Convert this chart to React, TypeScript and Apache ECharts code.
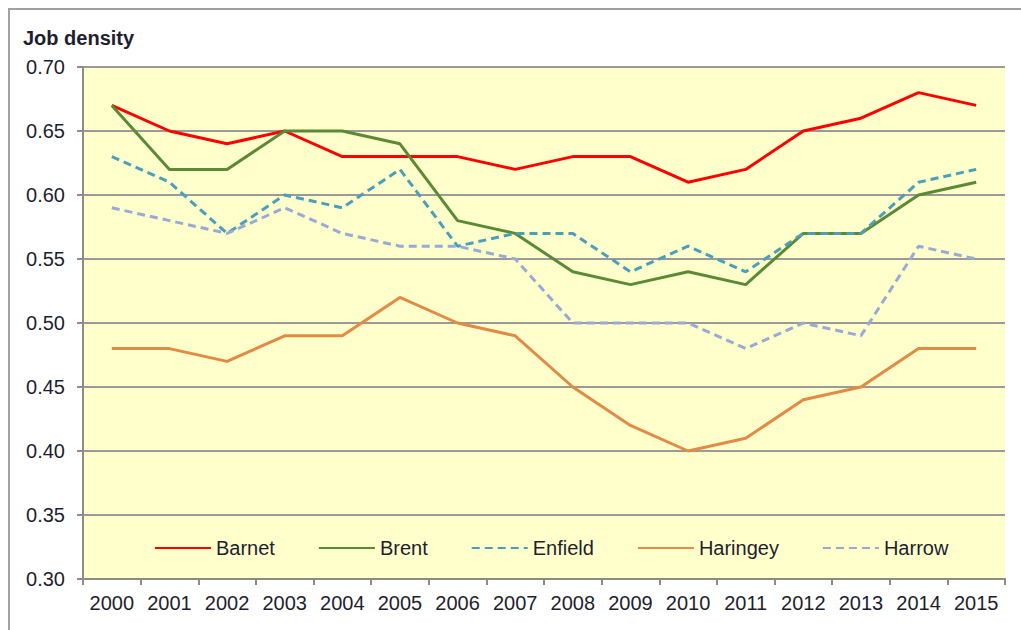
import React, { useEffect, useRef } from "react";
import * as echarts from "echarts";

const years = ["2000","2001","2002","2003","2004","2005","2006","2007","2008","2009","2010","2011","2012","2013","2014","2015"];
const barnet = [0.67,0.65,0.64,0.65,0.63,0.63,0.63,0.62,0.63,0.63,0.61,0.62,0.65,0.66,0.68,0.67];
const brent = [0.67,0.62,0.62,0.65,0.65,0.64,0.58,0.57,0.54,0.53,0.54,0.53,0.57,0.57,0.60,0.61];
const enfield = [0.63,0.61,0.57,0.60,0.59,0.62,0.56,0.57,0.57,0.54,0.56,0.54,0.57,0.57,0.61,0.62];
const haringey = [0.48,0.48,0.47,0.49,0.49,0.52,0.50,0.49,0.45,0.42,0.40,0.41,0.44,0.45,0.48,0.48];
const harrow = [0.59,0.58,0.57,0.59,0.57,0.56,0.56,0.55,0.50,0.50,0.50,0.48,0.50,0.49,0.56,0.55];

const FONT = "'Liberation Sans', Arial, sans-serif";
const TXT = "#1e1e2e";

export default function App() {
  const ref = useRef<HTMLDivElement>(null);
  useEffect(() => {
    if (!ref.current) return;
    const chart = echarts.init(ref.current, null, { renderer: "svg" });
    const mk = (name: string, data: number[], color: string, dashed: boolean) => ({
      name,
      type: "line",
      data,
      symbol: "none",
      lineStyle: { color, width: 3, type: dashed ? [8, 5] : "solid" },
      itemStyle: { color },
    });
    chart.setOption({
      animation: false,
      textStyle: { fontFamily: FONT },
      graphic: [
        {
          type: "rect",
          shape: { x: 9, y: 9, width: 1100, height: 700 },
          style: { fill: "none", stroke: "#a0a0a0", lineWidth: 2 },
        },
        {
          type: "rect",
          z: -1,
          shape: { x: 83, y: 67, width: 922, height: 512 },
          style: { fill: "#FFFFCC" },
        },
        {
          type: "text",
          left: 23,
          top: 28,
          style: { text: "Job density", fontFamily: FONT, fontSize: 20, fontWeight: "bold", fill: TXT },
        },
      ],
      legend: {
        left: 149,
        top: 533,
        itemWidth: 56,
        itemHeight: 14,
        itemGap: 43,
        itemStyle: { opacity: 0 },
        textStyle: { fontFamily: FONT, fontSize: 20, color: TXT },
        data: ["Barnet", "Brent", "Enfield", "Haringey", "Harrow"],
      },
      grid: { left: 83, right: 16, top: 67, bottom: 51, containLabel: false },
      xAxis: {
        type: "category",
        data: years,
        boundaryGap: true,
        axisLine: { lineStyle: { color: "#8c8c8c", width: 2 } },
        axisTick: { show: true, length: 6, lineStyle: { color: "#8c8c8c", width: 2 } },
        axisLabel: { fontFamily: FONT, fontSize: 20, color: TXT, margin: 14, interval: 0 },
        splitLine: { show: false },
      },
      yAxis: {
        type: "value",
        min: 0.3,
        max: 0.7,
        interval: 0.05,
        axisLine: { show: true, lineStyle: { color: "#8c8c8c", width: 2 } },
        axisTick: { show: true, length: 6, lineStyle: { color: "#8c8c8c", width: 2 } },
        axisLabel: {
          fontFamily: FONT,
          fontSize: 20,
          color: TXT,
          margin: 18,
          formatter: (v: number) => v.toFixed(2),
        },
        splitLine: { show: true, lineStyle: { color: "#9a9a9a", width: 2 } },
      },
      series: [
        mk("Barnet", barnet, "#FF0000", false),
        mk("Brent", brent, "#5B8A35", false),
        mk("Enfield", enfield, "#4A9FBC", true),
        mk("Haringey", haringey, "#E38A45", false),
        mk("Harrow", harrow, "#98AAD6", true),
      ],
    });
    return () => chart.dispose();
  }, []);
  return (
    <div
      ref={ref}
      style={{ position: "fixed", left: 0, top: 0, width: 1021, height: 630, background: "#ffffff" }}
    />
  );
}
